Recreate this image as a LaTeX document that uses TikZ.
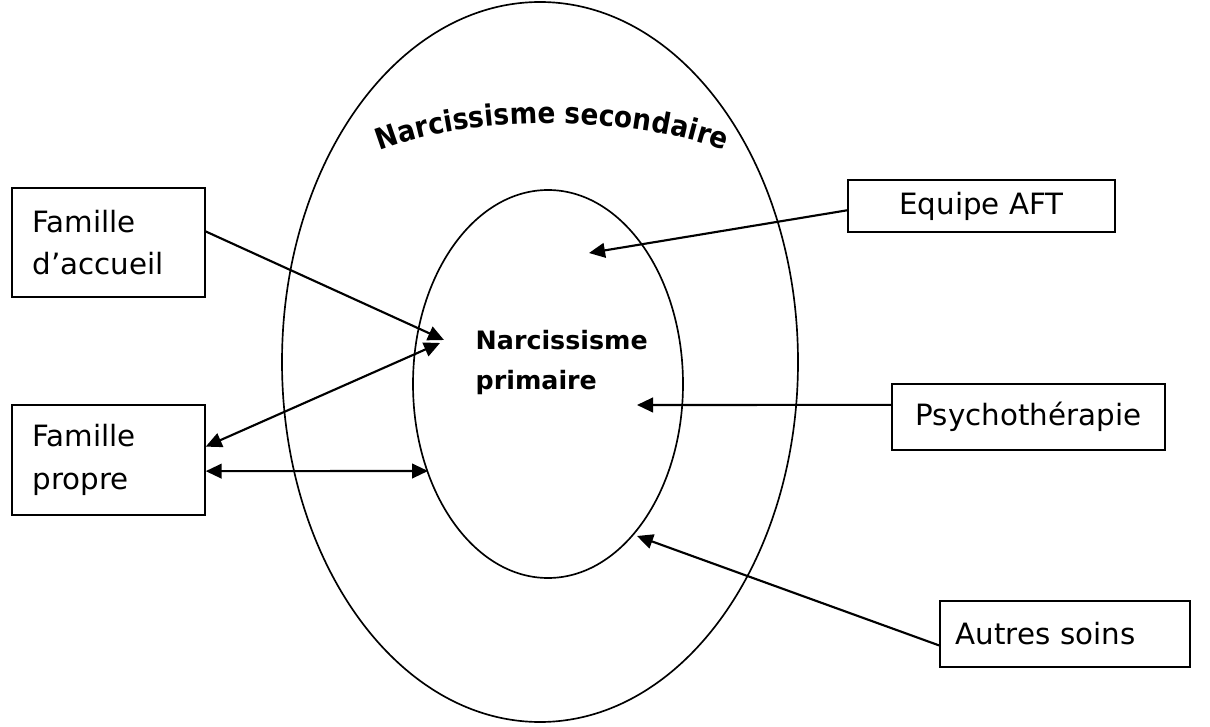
\documentclass[tikz,border=0pt]{standalone}
\usepackage{fontspec}
\setmainfont{DejaVu Sans}
\newfontfamily\condfont{DejaVu Sans Condensed}
\usetikzlibrary{arrows.meta,calc,decorations.text}
\begin{document}
\begin{tikzpicture}[x=0.75pt,y=-0.75pt,
  box/.style={draw,line width=1.1pt,rectangle,inner xsep=0pt,inner ysep=0pt,font=\fontsize{22}{32}\selectfont},
  ring/.style={line width=1.25pt},
  conn/.style={line width=1.6pt,-{Triangle[length=12pt,width=11pt]}},
  dconn/.style={line width=1.6pt,{Triangle[length=12pt,width=11pt]}-{Triangle[length=12pt,width=11pt]}}]
\useasboundingbox (0,0) rectangle (1210,727);
% ellipses
\draw[ring] (540,362) ellipse [x radius=193.5pt, y radius=270pt];
\draw[ring] (548,384) ellipse [x radius=101.25pt, y radius=145.5pt];
% curved title
\path[decorate,decoration={text along path,text align=center,
  text={|\condfont\fontsize{22}{22}\selectfont\bfseries|Narcissisme secondaire}}]
  (376,152) .. controls (470,114) and (630,114) .. (728,152);
% inner label
\node[anchor=west,align=left,font=\fontsize{19}{30}\selectfont\bfseries] (np) at (471,363) {Narcissisme\\primaire};
% boxes
\node[box,minimum width=144.75pt,minimum height=81.75pt,text width=114pt,align=left] (acc) at (108.5,242.5) {Famille\\d’accueil};
\node[box,minimum width=144.75pt,minimum height=82.5pt,text width=114pt,align=left] (pro) at (108.5,460) {Famille\\propre};
\node[box,minimum width=200.25pt,minimum height=39pt] (aft) at (981.5,206) {Equipe AFT};
\node[box,minimum width=204.75pt,minimum height=49.5pt] (psy) at (1028.5,417) {Psychothérapie};
\node[box,minimum width=187.5pt,minimum height=49.5pt,text width=164pt,align=left] (aut) at (1065,634) {Autres soins};
% arrow ends
\coordinate (tacc) at (444,340);
\coordinate (tpro) at (440,343);
\coordinate (thor) at (428,471);
\coordinate (taft) at (589,253);
\coordinate (tpsy) at (637,405);
\coordinate (taut) at (637,536);
% connectors
\draw[conn] ($(acc.north east)!0.4!(acc.south east)$) -- (tacc);
\draw[dconn] ($(pro.north east)!0.38!(pro.south east)$) -- (tpro);
\draw[dconn] ($(pro.north east)!0.6!(pro.south east)$) -- (thor);
\draw[conn] ($(aft.north west)!0.58!(aft.south west)$) -- (taft);
\draw[conn] ($(psy.north west)!0.32!(psy.south west)$) -- (tpsy);
\draw[conn] ($(aut.north west)!0.67!(aut.south west)$) -- (taut);
\end{tikzpicture}
\end{document}
